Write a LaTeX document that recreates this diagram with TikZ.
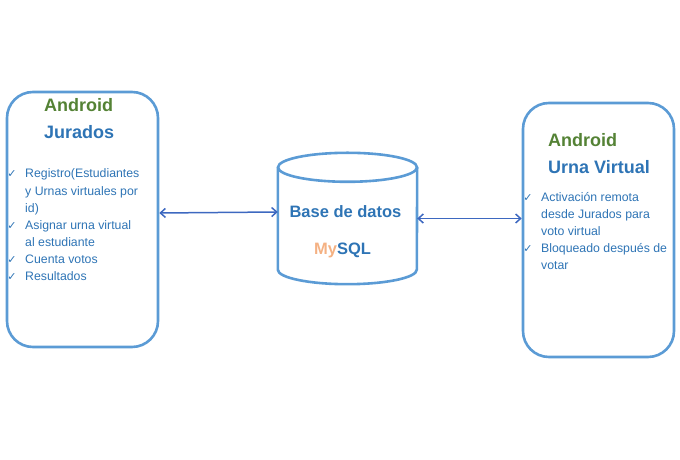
\documentclass[tikz,border=0pt]{standalone}
\usepackage{fontspec}
\setmainfont{Liberation Sans}
\newfontfamily\symfont{DejaVu Sans}
\usetikzlibrary{arrows.meta}
\definecolor{boxblue}{HTML}{5B9BD5}
\definecolor{txtblue}{HTML}{2E74B5}
\definecolor{arrblue}{HTML}{3D68C0}
\definecolor{andgreen}{HTML}{548235}
\definecolor{myorange}{HTML}{F4B183}
\tikzset{
  panel/.style={draw=boxblue, line width=2.6pt, rounded corners=26pt, inner sep=0pt},
  title/.style={font=\fontsize{18}{20}\selectfont\bfseries, inner sep=0pt, anchor=base west},
  bul/.style={font=\fontsize{12.3}{14}\selectfont, text=txtblue, inner sep=0pt, anchor=base west},
  chk/.style={font=\symfont\fontsize{11}{12}\selectfont, text=txtblue, inner sep=0pt, anchor=base},
  link/.style={draw=arrblue, line width=1.5pt, {Straight Barb[length=5pt,width=9pt]}-{Straight Barb[length=5pt,width=9pt]}},
  cyl/.style={draw=boxblue, line width=2.6pt},
  dbtext/.style={font=\fontsize{16.5}{18}\selectfont\bfseries, inner sep=0pt, anchor=base}
}
\begin{document}
\begin{tikzpicture}[x=1pt,y=1pt]
\useasboundingbox (0,0) rectangle (680,460);
% panels
\node[panel, minimum width=151pt, minimum height=255pt] (jur) at (82.5,240.5) {};
\node[panel, minimum width=151pt, minimum height=254pt] (urna) at (598.5,230) {};
% cylinder body (invisible node for connections)
\node[minimum width=139pt, minimum height=102pt, inner sep=0pt] (db) at (347.5,241.5) {};
\draw[cyl] (db.north west) -- (db.south west) arc[start angle=180,end angle=360,x radius=69.5pt,y radius=14.5pt] -- (db.north east);
\draw[cyl] (db.north) ellipse[x radius=69.5pt, y radius=14.5pt];
% titles
\node[title, text=andgreen] (jt1) at (44,348) {Android};
\node[title, text=txtblue] (jt2) at (44,321) {Jurados};
\node[title, text=andgreen] (ut1) at (548,313) {Android};
\node[title, text=txtblue] (ut2) at (548,286) {Urna Virtual};
% db labels
\node[dbtext, text=txtblue] (dbl) at (345.5,242) {Base de datos};
\node[dbtext] (dbm) at (342.5,205) {\textcolor{myorange}{My}\textcolor{txtblue}{SQL}};
% left bullets
\foreach \t [count=\i] in {{Registro(Estudiantes},{y Urnas virtuales por},{id)},{Asignar urna virtual},{al estudiante},{Cuenta votos},{Resultados}}
  \node[bul] (jl\i) at (25,{282-17.1*(\i-1)}) {\t};
\foreach \i in {1,4,6,7}
  \node[chk] (jc\i) at (12,{282-17.1*(\i-1)}) {✓};
% right bullets
\foreach \t [count=\i] in {{Activación remota},{desde Jurados para},{voto virtual},{Bloqueado después de},{votar}}
  \node[bul] (ul\i) at (541,{258-17*(\i-1)}) {\t};
\foreach \i in {1,4}
  \node[chk] (uc\i) at (528,{258-17*(\i-1)}) {✓};
% connectors
\draw[link] ([yshift=6.5pt]jur.east) -- ([yshift=6.5pt]db.west);
\draw[link] (db.east) -- ([yshift=11.5pt]urna.west);
\end{tikzpicture}
\end{document}
